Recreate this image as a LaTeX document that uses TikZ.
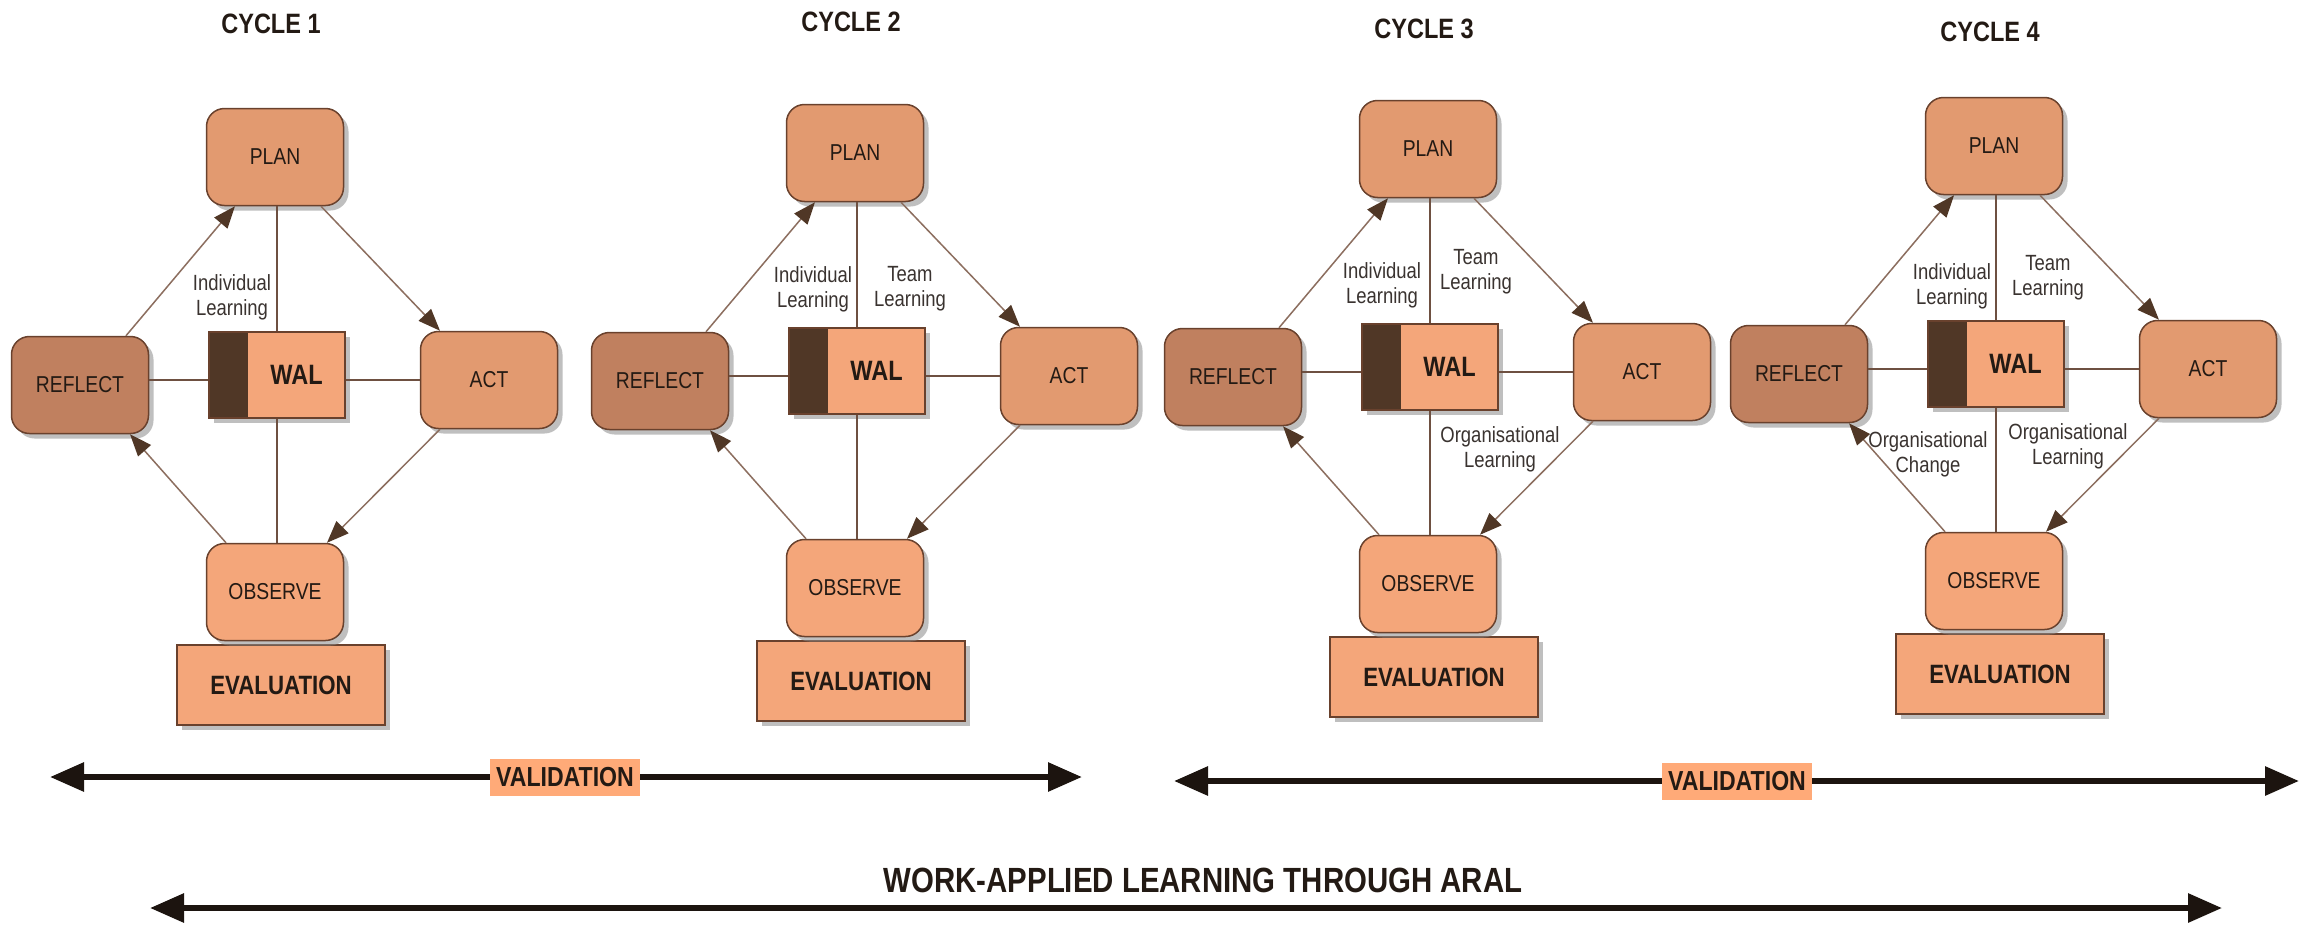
\documentclass[tikz,border=0pt]{standalone}
\usepackage{fontspec}
\setmainfont{Liberation Sans}[FakeStretch=0.84]
\usetikzlibrary{arrows.meta,shadows}

\definecolor{planfill}{HTML}{E29A70}
\definecolor{reflectfill}{HTML}{C0805F}
\definecolor{lightfill}{HTML}{F4A67A}
\definecolor{valfill}{HTML}{FFAA78}
\definecolor{darkbrown}{HTML}{503726}
\definecolor{edgebrown}{HTML}{69412D}
\definecolor{linkbrown}{HTML}{6E5041}
\definecolor{arrowline}{HTML}{8C6E5F}
\definecolor{bigblack}{HTML}{1C140F}
\definecolor{ink}{HTML}{231A14}
\definecolor{labelink}{HTML}{3A3330}

\tikzset{
  boxshadow/.style={drop shadow={shadow xshift=5pt,shadow yshift=-5pt,fill=black!45,opacity=0.55}},
  stage/.style={draw=edgebrown,line width=1.5pt,rounded corners=18pt,
    minimum width=137pt,minimum height=97pt,inner sep=0pt,text=ink,
    font=\fontsize{23}{26}\selectfont,boxshadow},
  walbox/.style={draw=edgebrown,line width=1.5pt,fill=lightfill,
    minimum width=136pt,minimum height=86pt,inner sep=0pt,text=ink,
    font=\bfseries\fontsize{28}{30}\selectfont,boxshadow,
    path picture={\fill[darkbrown] (path picture bounding box.north west)
      rectangle ([xshift=39pt]path picture bounding box.south west);}},
  evalbox/.style={draw=edgebrown,line width=1.5pt,fill=lightfill,
    minimum width=208pt,minimum height=80pt,inner sep=0pt,text=ink,
    font=\bfseries\fontsize{26.5}{28}\selectfont,boxshadow},
  cycletitle/.style={text=ink,font=\bfseries\fontsize{28}{30}\selectfont,inner sep=0pt},
  edgelabel/.style={text=labelink,align=center,inner sep=0pt,
    font=\fontsize{22}{25}\selectfont},
  link/.style={draw=linkbrown,line width=2pt},
  flow/.style={draw=arrowline,line width=1.5pt,
    -{Triangle[length=22pt,width=17pt,color=darkbrown]}},
  bigarrow/.style={draw=bigblack,line width=6pt,
    {Triangle[length=34pt,width=28pt,color=bigblack]}-{Triangle[length=34pt,width=28pt,color=bigblack]}},
  valbox/.style={fill=valfill,minimum width=150pt,minimum height=37pt,inner sep=0pt,
    text=ink,font=\bfseries\fontsize{27.5}{29}\selectfont},
}

% one action-research cycle: #1 number, (#2,#3) centre of PLAN, #4 title offset
\newcommand\wheel[4]{%
  \begin{scope}[shift={(#2,#3)}]
    \node[cycletitle] (title#1) at (-4,#4) {CYCLE #1};
    \node[evalbox] (eval#1) at (6,528) {EVALUATION};
    \node[stage,fill=planfill] (plan#1) at (0,0) {PLAN};
    \node[stage,fill=reflectfill] (reflect#1) at (-195,228) {REFLECT};
    \node[walbox] (wal#1) at (2,218) {\hspace*{39pt}WAL};
    \node[stage,fill=planfill] (act#1) at (214,223) {ACT};
    \node[stage,fill=lightfill] (observe#1) at (0,435) {OBSERVE};
    % spokes to the hub
    \draw[link] (wal#1.north) -- (wal#1.north |- plan#1.south);
    \draw[link] (wal#1.south) -- (wal#1.south |- observe#1.north);
    \draw[link] ([yshift=5pt]reflect#1.east) -- ([yshift=5pt]reflect#1.east -| wal#1.west);
    \draw[link] (wal#1.east |- act#1.west) -- (act#1.west);
    % the cycle
    \draw[flow] ([xshift=46pt]reflect#1.north) -- ([xshift=-40pt]plan#1.south);
    \draw[flow] ([xshift=46pt]plan#1.south) -- ([xshift=-49pt]act#1.north);
    \draw[flow] ([xshift=-49pt]act#1.south) -- ([xshift=52pt]observe#1.north);
    \draw[flow] ([xshift=-49pt]observe#1.north) -- ([xshift=50pt]reflect#1.south);
  \end{scope}%
}

\begin{document}
\begin{tikzpicture}[x=1pt,y=-1pt]
  \useasboundingbox[fill=white] (0,0) rectangle (2305,924);

  \wheel{1}{275}{157}{-133}
  \wheel{2}{855}{153}{-131}
  \wheel{3}{1428}{149}{-120}
  \wheel{4}{1994}{146}{-114}

  % learning levels
  \node[edgelabel] (il1) at (232,297) {Individual\\Learning};
  \node[edgelabel] (il2) at (813,289) {Individual\\Learning};
  \node[edgelabel] (tl2) at (910,289) {Team\\Learning};
  \node[edgelabel] (il3) at (1382,285) {Individual\\Learning};
  \node[edgelabel] (tl3) at (1476,272) {Team\\Learning};
  \node[edgelabel] (ol3) at (1500,449) {Organisational\\Learning};
  \node[edgelabel] (il4) at (1952,286) {Individual\\Learning};
  \node[edgelabel] (tl4) at (2048,278) {Team\\Learning};
  \node[edgelabel] (ol4) at (2068,446) {Organisational\\Learning};
  \node[edgelabel] (oc4) at (1928,454) {Organisational\\Change};

  % validation spans
  \coordinate (v1l) at (50,777);
  \coordinate (v1r) at (1082,777);
  \draw[bigarrow] (v1l) -- (v1r);
  \node[valbox] (val1) at (565,777) {VALIDATION};

  \coordinate (v2l) at (1174,781);
  \coordinate (v2r) at (2299,781);
  \draw[bigarrow] (v2l) -- (v2r);
  \node[valbox] (val2) at (1737,781) {VALIDATION};

  % overall span
  \node[text=ink,inner sep=0pt,font=\bfseries\fontsize{35}{38}\selectfont] (aral) at (1203,880)
    {WORK-APPLIED LEARNING THROUGH ARAL};
  \coordinate (wl) at (150,908);
  \coordinate (wr) at (2222,908);
  \draw[bigarrow] (wl) -- (wr);
\end{tikzpicture}
\end{document}
